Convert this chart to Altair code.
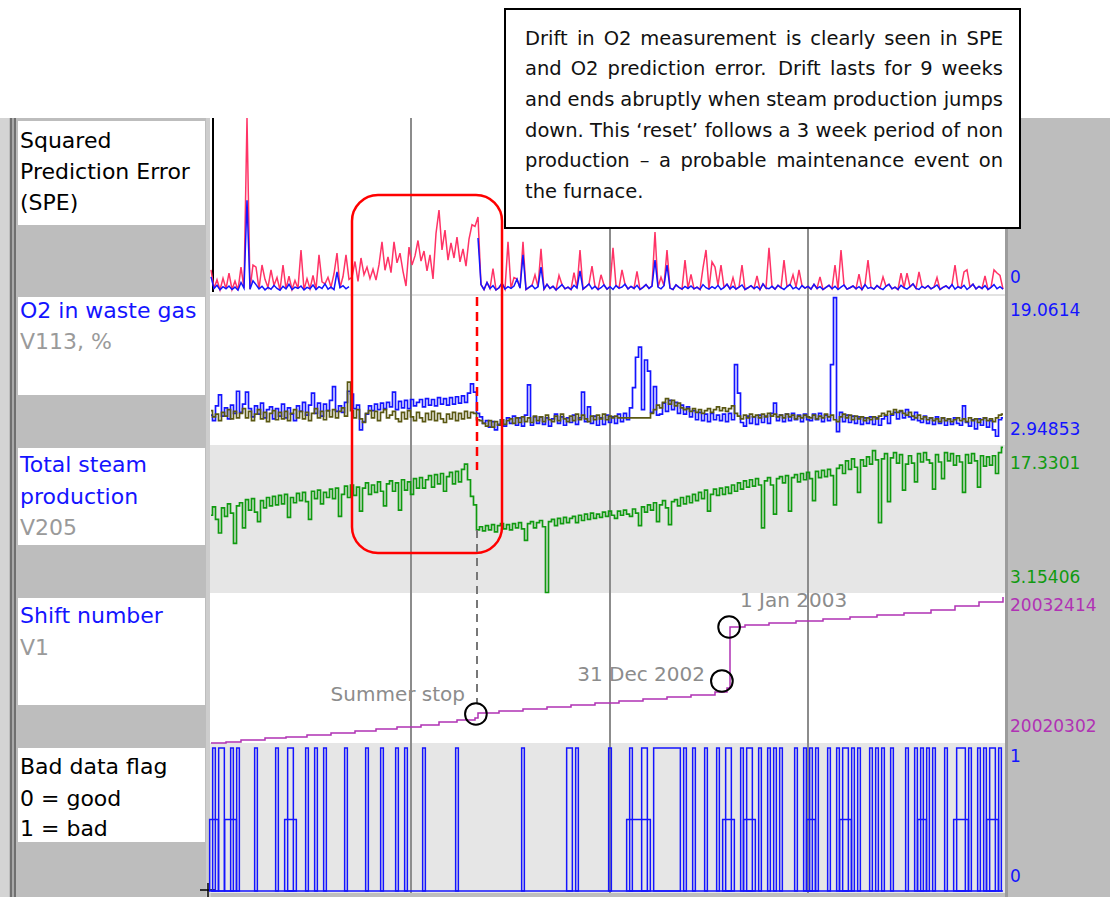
import altair as alt
import pandas as pd

FONT = "DejaVu Sans"
W, H = 1110, 897

# ---------------------------------------------------------------------------
# Time series, one sample per index (0 .. 264)
# ---------------------------------------------------------------------------
N_SAMPLES = 265

# Squared prediction error, total (red) and model block (blue)
spe_total = [
    6.6, 1.3, 3.8, 0.9, 4.2, 1.2, 5.7, 1.0, 3.4, 0.8,
    7.4, 1.4, 50.0, 1.1, 8.0, 7.4, 1.2, 8.0, 3.9, 1.6,
    6.6, 2.2, 4.4, 0.8, 8.0, 1.2, 4.8, 1.0, 3.6, 1.3,
    12.3, 0.9, 4.1, 1.2, 5.0, 1.0, 10.9, 3.2, 2.6, 4.5,
    1.7, 5.5, 11.4, 1.5, 4.7, 10.9, 3.9, 4.5, 9.0, 3.3,
    10.0, 5.2, 7.4, 4.1, 6.8, 3.7, 8.1, 14.6, 6.5, 10.3,
    5.8, 14.6, 8.6, 11.4, 6.2, 2.0, 13.1, 8.0, 10.6, 15.0,
    9.1, 12.0, 6.3, 10.9, 4.0, 17.0, 23.7, 12.3, 18.0, 9.4,
    14.3, 10.0, 16.0, 8.9, 12.6, 7.7, 15.4, 19.5, 19.0, 21.7,
    2.4, 1.0, 3.0, 1.3, 7.0, 0.9, 1.5, 2.8, 1.1, 14.6,
    1.3, 4.4, 4.0, 1.4, 14.6, 1.0, 1.6, 2.2, 5.2, 1.8,
    12.6, 1.1, 2.5, 1.3, 1.9, 0.9, 5.0, 2.4, 1.2, 1.7,
    1.0, 5.8, 1.4, 12.3, 1.1, 1.8, 2.6, 7.7, 1.9, 1.0,
    5.2, 2.3, 1.1, 1.8, 12.9, 2.1, 1.4, 6.6, 2.5, 1.2,
    1.9, 1.3, 6.2, 1.0, 1.6, 2.4, 1.3, 2.0, 17.4, 1.7,
    4.5, 2.1, 12.3, 1.4, 1.0, 2.3, 1.6, 1.1, 9.4, 1.3,
    5.3, 1.2, 1.7, 1.0, 7.2, 12.3, 1.1, 8.9, 7.4, 2.2,
    8.0, 1.6, 2.5, 1.2, 4.4, 1.1, 1.7, 8.0, 1.0, 1.5,
    2.1, 1.3, 4.9, 1.0, 2.6, 1.4, 12.9, 1.9, 1.1, 2.2,
    1.5, 9.4, 1.8, 2.4, 5.2, 1.7, 6.6, 2.1, 1.4, 1.9,
    1.1, 2.5, 1.3, 4.6, 1.0, 1.6, 2.2, 1.2, 8.0, 1.0,
    12.3, 2.3, 1.1, 1.5, 2.0, 1.2, 5.4, 1.0, 2.4, 9.4,
    1.6, 1.1, 2.1, 1.4, 4.6, 1.9, 2.5, 1.2, 1.7, 1.0,
    5.7, 1.5, 5.7, 1.8, 2.6, 1.3, 6.0, 1.9, 1.4, 2.1,
    1.2, 1.7, 4.4, 1.0, 1.6, 2.0, 1.3, 2.4, 8.0, 1.8,
    1.4, 6.0, 6.6, 1.7, 2.5, 1.2, 1.9, 1.3, 4.9, 1.0,
    1.6, 6.6, 5.7, 5.0, 1.1,
]

_ = None
spe_model = [
    4.6, 1.3, 2.2, 0.9, 1.8, 1.2, 2.0, 1.0, 1.7, 0.8,
    3.0, 1.4, 26.5, 1.1, 3.5, 2.4, 1.2, 1.9, 0.9, 1.6,
    1.1, 2.2, 1.3, 0.8, 1.9, 1.2, 2.5, 1.0, 1.7, 1.3,
    2.0, 0.9, 1.6, 1.2, 2.3, 1.0, 1.8, 1.3, 2.6, 1.1,
    1.7, 1.0, 6.0, 1.5, 2.1, 1.2, 1.8, _, _, _,
    _, _, _, _, _, _, _, _, _, _,
    _, _, _, _, _, _, _, _, _, _,
    _, _, _, _, _, _, _, _, _, _,
    _, _, _, _, _, _, _, _, _, 15.7,
    2.4, 1.0, 3.0, 1.3, 2.1, 0.9, 1.5, 2.8, 1.1, 1.8,
    1.3, 2.0, 4.0, 1.4, 10.9, 1.0, 1.6, 2.2, 1.2, 1.8,
    7.4, 1.1, 2.5, 1.3, 1.9, 0.9, 1.6, 2.4, 1.2, 1.7,
    1.0, 2.2, 1.4, 6.3, 1.1, 1.8, 2.6, 1.2, 1.9, 1.0,
    1.5, 2.3, 1.1, 1.8, 1.0, 2.1, 1.4, 1.7, 2.5, 1.2,
    1.9, 1.3, 2.2, 1.0, 1.6, 2.4, 1.3, 2.0, 9.4, 1.7,
    1.2, 2.1, 8.0, 1.4, 1.0, 2.3, 1.6, 1.1, 1.9, 1.3,
    2.0, 1.2, 1.7, 1.0, 2.4, 1.5, 1.1, 1.8, 1.3, 2.2,
    1.0, 1.6, 2.5, 1.2, 1.9, 1.1, 1.7, 2.3, 1.0, 1.5,
    2.1, 1.3, 1.8, 1.0, 2.6, 1.4, 1.2, 1.9, 1.1, 2.2,
    1.5, 1.0, 1.8, 2.4, 1.2, 1.7, 1.0, 2.1, 1.4, 1.9,
    1.1, 2.5, 1.3, 1.8, 1.0, 1.6, 2.2, 1.2, 1.9, 1.0,
    1.7, 2.3, 1.1, 1.5, 2.0, 1.2, 1.8, 1.0, 2.4, 1.3,
    1.6, 1.1, 2.1, 1.4, 1.0, 1.9, 2.5, 1.2, 1.7, 1.0,
    2.2, 1.5, 1.1, 1.8, 2.6, 1.3, 1.0, 1.9, 1.4, 2.1,
    1.2, 1.7, 2.3, 1.0, 1.6, 2.0, 1.3, 2.4, 1.1, 1.8,
    1.4, 2.2, 1.0, 1.7, 2.5, 1.2, 1.9, 1.3, 2.1, 1.0,
    1.6, 2.4, 1.2, 1.8, 1.1,
]

# O2 in waste gas (V113, %): measured (blue) and model prediction (olive)
o2_measured = [
    6.2, 5.6, 7.2, 8.4, 6.1, 7.0, 5.8, 7.3, 6.4, 8.8,
    6.5, 7.4, 8.7, 6.9, 6.0, 7.2, 6.3, 7.5, 5.9, 6.8,
    7.1, 5.8, 6.9, 6.1, 7.4, 5.9, 7.0, 6.3, 5.6, 7.2,
    6.6, 7.6, 6.2, 7.3, 8.6, 6.4, 7.5, 6.1, 7.4, 6.7,
    7.8, 9.3, 6.6, 7.2, 6.5, 7.6, 8.8, 8.5, 6.9, 7.3,
    4.6, 5.5, 6.3, 7.2, 6.7, 7.4, 6.8, 7.5, 6.9, 7.6,
    7.1, 8.7, 6.8, 7.7, 7.0, 7.8, 6.9, 7.9, 7.2, 7.6,
    7.9, 7.1, 8.0, 7.3, 7.9, 7.2, 8.1, 7.4, 8.0, 7.3,
    8.1, 7.4, 8.2, 7.5, 8.3, 7.6, 8.6, 9.6, 8.7, 6.4,
    6.0, 5.3, 5.6, 4.9, 5.5, 4.6, 5.2, 5.7, 5.0, 5.9,
    5.3, 6.1, 5.1, 5.9, 5.0, 6.2, 9.5, 5.1, 6.0, 5.3,
    6.0, 5.2, 5.9, 5.0, 5.8, 6.3, 5.3, 6.0, 5.1, 5.9,
    5.4, 6.2, 5.2, 5.9, 8.7, 5.5, 7.1, 5.3, 6.1, 5.1,
    5.9, 5.2, 6.2, 5.4, 6.0, 5.3, 6.3, 5.5, 6.4, 5.7,
    7.0, 9.2, 12.5, 13.6, 6.8, 12.2, 11.0, 6.5, 9.3, 6.2,
    6.3, 7.5, 6.6, 7.8, 6.8, 7.6, 6.4, 7.3, 6.3, 7.1,
    6.0, 6.7, 5.7, 6.5, 5.6, 6.3, 5.5, 6.4, 5.7, 6.2,
    5.6, 6.3, 5.5, 6.4, 5.7, 11.7, 8.6, 5.4, 5.0, 6.1,
    5.3, 6.0, 5.2, 6.2, 5.4, 6.1, 5.3, 6.4, 7.5, 5.6,
    6.2, 5.5, 6.3, 5.6, 6.4, 5.7, 6.2, 5.5, 6.3, 5.7,
    5.6, 6.3, 5.7, 6.4, 5.5, 6.2, 5.6, 11.7, 19.0, 4.4,
    6.5, 5.5, 6.2, 5.4, 6.1, 5.3, 6.0, 5.2, 5.9, 5.3,
    6.0, 5.2, 5.9, 5.1, 5.8, 6.1, 5.3, 6.2, 6.5, 5.8,
    6.6, 5.9, 6.8, 6.0, 5.7, 6.5, 5.6, 5.4, 6.1, 5.3,
    5.9, 5.2, 6.0, 5.3, 5.9, 5.1, 5.8, 5.2, 5.9, 5.3,
    5.1, 7.2, 5.4, 5.0, 5.7, 4.7, 5.8, 5.1, 5.9, 4.9,
    5.6, 4.6, 3.9, 5.7, 5.9,
]

o2_predicted = [
    6.7, 6.0, 6.3, 5.6, 6.5, 6.1, 6.8, 5.8, 6.6, 5.9,
    6.4, 6.9, 5.9, 6.6, 5.6, 6.3, 6.8, 5.8, 6.5, 5.5,
    6.4, 6.7, 5.7, 6.5, 5.8, 6.6, 5.6, 6.4, 6.8, 5.9,
    6.6, 5.8, 6.5, 5.6, 6.4, 6.9, 5.9, 6.6, 5.7, 6.7,
    6.0, 6.8, 5.9, 6.6, 7.0, 6.1, 9.8, 6.7, 5.9, 6.8,
    5.8, 5.4, 6.4, 6.7, 5.9, 6.6, 5.6, 6.5, 6.8, 5.9,
    6.2, 6.6, 5.8, 5.5, 6.5, 5.8, 6.7, 6.0, 5.6, 6.5,
    5.9, 5.5, 6.4, 5.7, 6.6, 5.6, 6.4, 5.8, 5.4, 6.3,
    5.8, 6.5, 5.6, 6.4, 5.8, 6.6, 5.9, 6.5, 6.4, 5.7,
    5.6, 5.3, 5.0, 5.6, 4.9, 5.5, 5.1, 5.7, 5.2, 5.6,
    5.8, 5.3, 5.9, 5.4, 6.0, 5.5, 5.9, 5.4, 6.1, 5.6,
    6.0, 5.5, 6.2, 5.7, 5.5, 6.1, 5.6, 6.3, 5.8, 5.5,
    6.1, 5.6, 6.3, 5.7, 6.2, 5.8, 5.5, 6.1, 5.7, 6.2,
    5.8, 6.3, 5.7, 6.1, 5.9, 6.1, 5.9, 5.9, 5.9, 5.9,
    5.9, 5.9, 5.9, 5.9, 5.9, 5.9, 5.9, 6.4, 6.8, 7.3,
    7.0, 7.6, 8.0, 7.4, 7.8, 7.2, 7.5, 7.0, 6.8, 6.9,
    6.6, 6.9, 6.5, 6.8, 6.4, 6.7, 6.9, 6.5, 6.8, 7.1,
    6.7, 7.0, 6.6, 6.9, 7.2, 6.4, 6.1, 5.8, 6.2, 5.9,
    6.3, 6.0, 6.2, 5.9, 6.3, 6.0, 6.4, 6.1, 6.3, 6.0,
    6.2, 5.9, 6.3, 6.0, 6.2, 5.8, 6.1, 5.9, 6.2, 6.0,
    5.9, 6.2, 5.8, 6.1, 5.9, 6.3, 6.0, 6.2, 5.7, 5.5,
    6.0, 6.3, 5.9, 6.2, 5.7, 6.1, 5.8, 6.0, 5.6, 5.9,
    5.7, 6.0, 5.8, 6.1, 6.4, 6.2, 6.6, 6.3, 6.8, 6.5,
    6.7, 6.4, 6.2, 6.5, 6.1, 5.9, 6.2, 5.8, 6.0, 5.7,
    5.9, 5.6, 5.8, 5.5, 5.9, 5.6, 5.8, 5.5, 5.7, 5.9,
    5.6, 5.8, 5.5, 5.9, 5.6, 5.8, 5.4, 5.7, 5.9, 5.6,
    5.8, 5.5, 5.9, 6.2, 6.3,
]

# Total steam production (V205)
steam_total = [
    10.6, 11.4, 10.2, 8.9, 11.3, 10.5, 11.7, 10.8, 7.9, 11.5,
    11.8, 9.4, 12.1, 11.1, 12.2, 10.9, 10.0, 12.0, 11.3, 12.3,
    11.5, 12.4, 11.6, 12.5, 11.7, 12.6, 10.4, 12.3, 11.8, 12.7,
    12.0, 12.8, 11.9, 10.2, 12.9, 12.2, 13.0, 11.7, 12.8, 12.3,
    13.1, 12.2, 13.2, 10.5, 12.6, 13.4, 12.3, 13.5, 12.5, 13.3,
    11.0, 13.2, 13.7, 12.6, 13.5, 12.8, 13.8, 12.9, 11.5, 13.6,
    13.9, 12.9, 13.7, 11.1, 14.0, 13.0, 13.8, 12.6, 14.1, 13.2,
    14.2, 13.2, 14.0, 14.4, 13.3, 14.5, 13.6, 14.6, 12.9, 14.3,
    14.7, 13.6, 14.8, 13.8, 15.0, 15.5, 14.0, 12.4, 11.6, 9.2,
    9.5, 9.1, 9.6, 9.2, 9.7, 9.0, 9.6, 9.8, 9.3, 9.7,
    9.2, 9.8, 9.4, 9.9, 9.3, 8.2, 9.8, 10.0, 9.4, 9.9,
    10.1, 9.5, 3.2, 10.0, 10.2, 9.6, 10.3, 9.8, 10.4, 9.9,
    10.3, 10.5, 9.9, 10.6, 10.1, 10.7, 10.2, 10.8, 10.3, 10.7,
    10.4, 10.9, 10.5, 11.0, 10.6, 10.3, 11.0, 10.6, 11.1, 10.7,
    10.5, 11.2, 10.8, 9.6, 11.4, 10.9, 11.6, 11.1, 11.8, 10.0,
    11.6, 12.0, 11.3, 9.7, 11.9, 12.1, 11.5, 12.3, 11.7, 12.4,
    11.8, 12.6, 12.0, 12.8, 12.2, 13.0, 11.0, 12.6, 13.1, 12.5,
    13.2, 12.6, 13.3, 12.7, 13.5, 12.9, 13.7, 13.1, 13.9, 13.3,
    14.0, 13.4, 14.1, 13.5, 9.4, 13.9, 14.2, 13.5, 10.7, 14.1,
    14.3, 13.7, 14.4, 11.0, 14.2, 14.5, 13.8, 14.6, 14.0, 14.7,
    14.1, 12.0, 14.8, 14.2, 14.9, 14.3, 15.0, 14.4, 11.6, 15.1,
    15.4, 14.6, 15.8, 15.0, 16.0, 15.2, 12.8, 15.9, 15.3, 16.2,
    15.5, 16.8, 15.9, 9.9, 16.0, 16.5, 11.9, 16.1, 16.6, 15.6,
    16.4, 13.0, 15.5, 16.3, 15.6, 13.8, 16.5, 15.7, 16.6, 15.9,
    15.6, 13.1, 16.4, 15.7, 14.1, 16.6, 15.8, 16.5, 15.4, 16.3,
    15.7, 12.8, 16.4, 15.6, 16.5, 15.8, 13.3, 16.3, 15.3, 16.2,
    15.4, 16.3, 14.6, 16.6, 17.1,
]

# Shift number (V1): value changes at these sample indices
shift_index = [0, 5, 10, 18, 25, 32, 40, 48, 55, 62,
               70, 76, 82, 88, 89, 96, 104, 112, 120, 128,
               136, 144, 152, 160, 168, 172, 173, 178, 186, 195,
               204, 213, 222, 231, 240, 248, 256, 264]
shift_number = [20020302, 20020385, 20020551, 20020717, 20020800,
                20020966, 20021132, 20021298, 20021463, 20021629,
                20021795, 20022044, 20022210, 20022376, 20022791,
                20022957, 20023123, 20023289, 20023454, 20023620,
                20023786, 20023952, 20024118, 20024284, 20024533,
                20024865, 20029925, 20030091, 20030257, 20030423,
                20030589, 20030755, 20030921, 20031087, 20031336,
                20031668, 20031999, 20032414]

# Bad data flag: runs of samples (first, last) flagged 1 = bad, and 0.5
flag_bad_runs = [
    (1, 1), (3, 4), (7, 7), (9, 9), (15, 15), (22, 22), (26, 27), (32, 32),
    (35, 35), (38, 38), (45, 45), (52, 52), (57, 57), (62, 62), (65, 65),
    (71, 71), (82, 82), (104, 104), (119, 120), (122, 122), (133, 133),
    (140, 140), (144, 145), (148, 156), (158, 158), (161, 161), (165, 165),
    (169, 169), (172, 173), (177, 177), (179, 180), (183, 183), (186, 186),
    (188, 188), (190, 190), (195, 195), (198, 198), (200, 200), (202, 202),
    (206, 206), (209, 209), (211, 212), (214, 214), (216, 216), (220, 220),
    (222, 222), (224, 224), (227, 227), (232, 232), (235, 235), (237, 237),
    (239, 239), (241, 241), (245, 245), (249, 251), (253, 253), (256, 256),
    (258, 258), (260, 261), (263, 263),
]
flag_partial_runs = [
    (0, 2), (5, 8), (25, 28), (139, 146), (171, 174), (178, 181),
    (199, 201), (210, 213), (236, 238), (248, 252), (259, 262),
]

# Event markers on the shift-number trace
event_index = [88.3, 170.3, 172.7]
event_shift = [20022708, 20025446, 20029925]

# ---------------------------------------------------------------------------
# Panel geometry (pixels)
# ---------------------------------------------------------------------------
PX_LEFT, PX_RIGHT = 211, 1003
SPE_Y = (293, 118)
O2_Y = (445, 297)
STEAM_Y = (593, 445)
SHIFT_Y = (743, 597)
FLAG_Y = (891, 748)

BLUE = "#1414ff"
RED = "#ff3366"
OLIVE = "#5a5812"
GREEN = "#109a10"
PURPLE = "#b032b4"
GREY_TXT = "#9a9a9a"

SPE_DOMAIN = [0, 50]
O2_DOMAIN = [2.94853, 19.0614]
STEAM_DOMAIN = [3.15406, 17.3301]
SHIFT_DOMAIN = [20020302, 20032414]
FLAG_DOMAIN = [0, 1]


def x_scale():
    return alt.Scale(domain=[0, N_SAMPLES - 1], range=[PX_LEFT, PX_RIGHT],
                     nice=False, zero=False)


def x_enc(field="i:Q"):
    return alt.X(field, axis=None, scale=x_scale())


def y_enc(domain, yrange, field="v:Q"):
    return alt.Y(field, axis=None,
                 scale=alt.Scale(domain=domain, range=list(yrange), nice=False, zero=False))


def series(values, color, domain, yrange, width=1.5, interpolate="step"):
    rows = [(i, v) for i, v in enumerate(values) if v is not None]
    df = pd.DataFrame(rows, columns=["i", "v"])
    # a new segment starts wherever samples are missing
    seg, prev, segs = 0, None, []
    for i in df["i"]:
        if prev is not None and i != prev + 1:
            seg += 1
        segs.append(seg)
        prev = i
    df["seg"] = segs
    return alt.Chart(df).mark_line(color=color, strokeWidth=width,
                                   interpolate=interpolate).encode(
        x=x_enc(), y=y_enc(domain, yrange), detail="seg:N")


one = pd.DataFrame({"k": [0]})


def rects(rows):
    df = pd.DataFrame(rows, columns=["x", "x2", "y", "y2", "c"])
    return alt.Chart(df).mark_rect().encode(
        x=alt.X("x:Q", scale=None, axis=None), x2="x2:Q",
        y=alt.Y("y:Q", scale=None, axis=None), y2="y2:Q",
        color=alt.Color("c:N", scale=None, legend=None))


def texts(rows, size, align="left", baseline="middle"):
    df = pd.DataFrame(rows, columns=["t", "x", "y", "c"])
    return alt.Chart(df).mark_text(font=FONT, fontSize=size, align=align,
                                   baseline=baseline).encode(
        x=alt.X("x:Q", scale=None, axis=None),
        y=alt.Y("y:Q", scale=None, axis=None),
        text="t:N",
        color=alt.Color("c:N", scale=None, legend=None))


# ---------------------------------------------------------------------------
# Frame and panel backgrounds
# ---------------------------------------------------------------------------
frame = rects([
    (0, 1110, 118, 897, "#bdbdbd"),
    (0, 9, 118, 897, "#d4d4d4"),
    (10, 16, 118, 897, "#707070"),
    (12, 14, 118, 897, "#a9a9a9"),
    # label boxes
    (18, 205, 121, 225, "#ffffff"),
    (18, 205, 297, 395, "#ffffff"),
    (18, 205, 448, 545, "#ffffff"),
    (18, 205, 598, 705, "#ffffff"),
    (18, 205, 748, 842, "#ffffff"),
    (206, 211, 118, 897, "#cdcdcd"),
    # plot panels
    (210, 1005, 118, 294, "#ffffff"),
    (210, 1005, 294, 296, "#e2e2e2"),
    (210, 1005, 296, 445, "#ffffff"),
    (210, 1005, 445, 593, "#e6e6e6"),
    (210, 1005, 593, 743, "#ffffff"),
    (210, 1005, 743, 893, "#e6e6e6"),
    (1005, 1008, 118, 897, "#9c9c9c"),
])

grid = alt.Chart(pd.DataFrame({"x": [411, 610, 808]})).mark_rule(
    color="#8c8c8c", strokeWidth=2).encode(
    x=alt.X("x:Q", scale=None, axis=None), y=alt.value(118), y2=alt.value(893))

left_axis = alt.Chart(one).mark_rule(color="#000000", strokeWidth=2).encode(
    x=alt.value(213), y=alt.value(118), y2=alt.value(292))
cross_h = alt.Chart(one).mark_rule(color="#000000", strokeWidth=1.5).encode(
    x=alt.value(200), x2=alt.value(216), y=alt.value(890))
cross_v = alt.Chart(one).mark_rule(color="#000000", strokeWidth=1.5).encode(
    x=alt.value(208), y=alt.value(883), y2=alt.value(897))

# ---------------------------------------------------------------------------
# Data traces
# ---------------------------------------------------------------------------
spe_red = series(spe_total, RED, SPE_DOMAIN, SPE_Y, interpolate="linear")
spe_blue = series(spe_model, BLUE, SPE_DOMAIN, SPE_Y, interpolate="linear")
o2_blue = series(o2_measured, BLUE, O2_DOMAIN, O2_Y, width=1.7)
o2_olive = series(o2_predicted, OLIVE, O2_DOMAIN, O2_Y, width=1.7)
steam_line = series(steam_total, GREEN, STEAM_DOMAIN, STEAM_Y, width=1.7)

shift_df = pd.DataFrame({"i": shift_index, "v": shift_number})
shift_line = alt.Chart(shift_df).mark_line(
    color=PURPLE, strokeWidth=1.5, interpolate="step-after").encode(
    x=x_enc(), y=y_enc(SHIFT_DOMAIN, SHIFT_Y))

# flag runs drawn as outlined pulses rising from the zero line
flag_rows = [(a - 0.45, b + 0.45, 0.5, 0.0) for a, b in flag_partial_runs]
flag_rows += [(a - 0.45, b + 0.45, 1.0, 0.0) for a, b in flag_bad_runs]
flag_df = pd.DataFrame(flag_rows, columns=["i0", "i1", "v", "z"])
flag_pulses = alt.Chart(flag_df).mark_rect(
    fill="#e6e6e6", fillOpacity=0, stroke=BLUE, strokeWidth=1.5).encode(
    x=x_enc("i0:Q"), x2="i1:Q",
    y=y_enc(FLAG_DOMAIN, FLAG_Y), y2="z:Q")
flag_zero = alt.Chart(pd.DataFrame({"i": [0, N_SAMPLES - 1], "v": [0, 0]})).mark_line(
    color=BLUE, strokeWidth=1.5).encode(x=x_enc(), y=y_enc(FLAG_DOMAIN, FLAG_Y))

events = alt.Chart(pd.DataFrame({"i": event_index, "v": event_shift})).mark_point(
    shape="circle", size=470, filled=False, color="#000000", strokeWidth=2,
    opacity=1).encode(x=x_enc(), y=y_enc(SHIFT_DOMAIN, SHIFT_Y))

# ---------------------------------------------------------------------------
# Annotations
# ---------------------------------------------------------------------------
drift_box = alt.Chart(one).mark_rect(
    cornerRadius=26, fill="#ffffff", fillOpacity=0, stroke="#ff0000",
    strokeWidth=2.5).encode(
    x=alt.value(352), x2=alt.value(502), y=alt.value(195), y2=alt.value(553))

red_dash = alt.Chart(one).mark_rule(
    color="#ff0000", strokeWidth=2.5, strokeDash=[9, 6]).encode(
    x=alt.value(477), y=alt.value(297), y2=alt.value(470))
grey_dash = alt.Chart(one).mark_rule(
    color="#777777", strokeWidth=2, strokeDash=[8, 6]).encode(
    x=alt.value(477), y=alt.value(530), y2=alt.value(703))

note_box = alt.Chart(one).mark_rect(
    fill="#ffffff", stroke="#000000", strokeWidth=2).encode(
    x=alt.value(505), x2=alt.value(1020), y=alt.value(9), y2=alt.value(228))

# Justified note text: approximate DejaVu Sans advance widths (em)
GLYPH_EM = {
    " ": .318, "a": .613, "b": .635, "c": .550, "d": .635, "e": .615, "f": .352,
    "g": .635, "h": .634, "i": .278, "j": .278, "k": .579, "l": .278, "m": .974,
    "n": .634, "o": .612, "p": .635, "q": .635, "r": .411, "s": .521, "t": .392,
    "u": .634, "v": .592, "w": .818, "x": .592, "y": .592, "z": .525,
    "D": .770, "O": .787, "S": .635, "P": .603, "E": .632, "T": .611,
    ".": .318, ",": .318, "\u2018": .318, "\u2019": .318, "\u2013": .500,
}
for d in "0123456789":
    GLYPH_EM[d] = .636

NOTE_SIZE = 19.5
NOTE_LEFT, NOTE_RIGHT = 525, 1003
note_lines = [
    "Drift in O2 measurement is clearly seen in SPE",
    "and O2 prediction error. Drift lasts for 9 weeks",
    "and ends abruptly when steam production jumps",
    "down. This \u2018reset\u2019 follows a 3 week period of non",
    "production \u2013 a probable maintenance event on",
    "the furnace.",
]
note_baselines = [45, 75, 106, 137, 167, 198]


def word_px(w):
    return sum(GLYPH_EM.get(ch, .6) for ch in w) * NOTE_SIZE


note_rows = []
for k, (line, yb) in enumerate(zip(note_lines, note_baselines)):
    words = line.split(" ")
    widths = [word_px(w) for w in words]
    last = k == len(note_lines) - 1
    gap = GLYPH_EM[" "] * NOTE_SIZE if last else \
        (NOTE_RIGHT - NOTE_LEFT - sum(widths)) / (len(words) - 1)
    x = NOTE_LEFT
    for w, wd in zip(words, widths):
        note_rows.append((w, x, yb, "#111111"))
        x += wd + gap
note_text = texts(note_rows, NOTE_SIZE, baseline="alphabetic")

panel_labels = texts([
    ("Squared", 20, 141, "#000000"),
    ("Prediction Error", 20, 172, "#000000"),
    ("(SPE)", 20, 203, "#000000"),
    ("O2 in waste gas", 20, 311, BLUE),
    ("V113, %", 20, 342, GREY_TXT),
    ("Total steam", 20, 465, BLUE),
    ("production", 20, 497, BLUE),
    ("V205", 20, 528, GREY_TXT),
    ("Shift number", 20, 616, BLUE),
    ("V1", 20, 648, GREY_TXT),
    ("Bad data flag", 20, 767, "#000000"),
    ("0 = good", 20, 799, "#000000"),
    ("1 = bad", 20, 829, "#000000"),
], 22)

range_labels = texts([
    ("0", 1010, 278, BLUE),
    (f"{O2_DOMAIN[1]:g}", 1010, 311, BLUE),
    (f"{O2_DOMAIN[0]:g}", 1010, 430, BLUE),
    (f"{STEAM_DOMAIN[1]:g}", 1010, 464, GREEN),
    (f"{STEAM_DOMAIN[0]:g}", 1010, 578, GREEN),
    (f"{SHIFT_DOMAIN[1]}", 1010, 606, PURPLE),
    (f"{SHIFT_DOMAIN[0]}", 1010, 727, PURPLE),
    ("1", 1010, 757, BLUE),
    ("0", 1010, 877, BLUE),
], 17)

event_labels_right = texts([
    ("Summer stop", 465, 695, "#8c8c8c"),
    ("31 Dec 2002", 705, 675, "#8c8c8c"),
], 20, align="right")
event_labels_left = texts([
    ("1 Jan 2003", 740, 601, "#8c8c8c"),
], 20)

chart = alt.layer(
    frame, grid, left_axis, cross_h, cross_v,
    spe_red, spe_blue, o2_blue, o2_olive, steam_line, shift_line,
    flag_zero, flag_pulses,
    drift_box, red_dash, grey_dash, events,
    event_labels_right, event_labels_left,
    note_box, note_text, panel_labels, range_labels,
).resolve_scale(
    x="independent", y="independent"
).properties(
    width=W, height=H, padding=0,
    autosize=alt.AutoSizeParams(type="none"),
    background="#ffffff",
).configure_view(strokeWidth=0)

chart.save("out.html", embed_options={"renderer": "svg", "actions": False})
